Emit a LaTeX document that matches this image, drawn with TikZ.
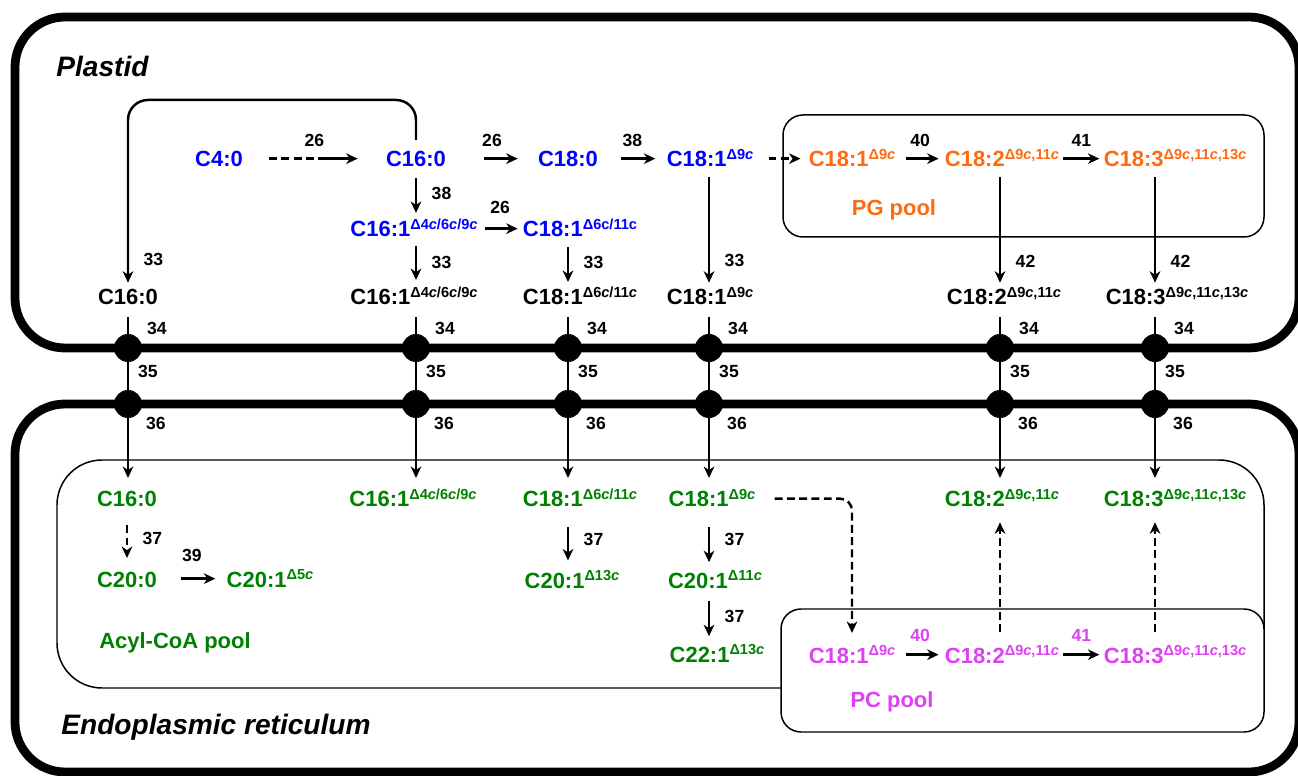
\documentclass[tikz,border=0pt]{standalone}
\usepackage{fontspec}
\setmainfont{Liberation Sans}
\usepackage{tikz}
\usetikzlibrary{arrows.meta,positioning,calc}
\definecolor{plastblue}{HTML}{0000FF}
\definecolor{pgorange}{HTML}{FF6A10}
\definecolor{coagreen}{HTML}{008000}
\definecolor{pcpink}{HTML}{E040F5}
\newcommand{\dsup}[1]{\raisebox{4pt}{\fontsize{8.3}{9}\selectfont #1}}
\newcommand{\ci}{\textit{c}}

\begin{document}
\begin{tikzpicture}[x=0.02cm, y=-0.02cm,
  acid/.style={anchor=base, inner sep=0pt, text height=9.5pt, text depth=0pt, font=\fontsize{12.5}{14}\selectfont\bfseries},
  num/.style={inner sep=0pt, font=\fontsize{10}{12}\selectfont\bfseries},
  poolname/.style={inner sep=0pt, font=\fontsize{12.5}{14}\selectfont\bfseries},
  compart/.style={anchor=west, inner sep=0pt, font=\fontsize{16}{18}\selectfont\bfseries\itshape},
  wall/.style={line width=5pt, rounded corners=1cm},
  pool/.style={line width=0.85pt, rounded corners=#1}, pool/.default=0.4cm,
  pore/.style={circle, fill=black, inner sep=0pt, minimum size=0.56cm},
  arr/.style={-{Stealth[length=6.5pt,width=6pt,inset=2pt]}, line width=1.4pt, shorten <=3pt, shorten >=3pt},
  dashy/.style={dash pattern=on 4.5pt off 2.5pt}]
\useasboundingbox (0,0) rectangle (1298,776);

% compartments and lipid pools
\draw[wall] (15,17) rectangle (1299,348);
\draw[wall] (15,404) rectangle (1299,772);
\node[compart] (plastid) at (56,66) {Plastid};
\node[compart] (er) at (61,727) {Endoplasmic reticulum};
\draw[pool] (783,115) rectangle (1264,237);
\draw[pool=0.9cm] (57,460) rectangle (1264,688);
\draw[pool, fill=white] (781,609) rectangle (1264,732);
\node[poolname, text=pgorange] (pg) at (894,210) {PG pool};
\node[poolname, text=coagreen] (coa) at (175,643) {Acyl-CoA pool};
\node[poolname, text=pcpink] (pc) at (892,702) {PC pool};

% columns and membranes
\coordinate (colA) at (128,0);
\coordinate (colB) at (416,0);
\coordinate (colC) at (568,0);
\coordinate (colD) at (709,0);
\coordinate (colE) at (1000,0);
\coordinate (colF) at (1155,0);
\coordinate (mem1) at (0,348);
\coordinate (mem2) at (0,404);

% plastid acids
\node[acid, text=plastblue] (c4) at (219,167) {C4:0};
\node[acid, text=plastblue] (bC160) at (416,167) {C16:0};
\node[acid, text=plastblue] (bC180) at (568,167) {C18:0};
\node[acid, text=plastblue] (bC181) at (710,167) {C18:1\dsup{Δ9\ci}};
\node[acid, text=plastblue] (bC161) at (414,237) {C16:1\dsup{Δ4\ci/6\ci/9\ci}};
\node[acid, text=plastblue] (bC181b) at (580,237) {C18:1\dsup{Δ6c/11c}};
\node[acid, text=pgorange] (oC181) at (852,167) {C18:1\dsup{Δ9\ci}};
\node[acid, text=pgorange] (oC182) at (1002,167) {C18:2\dsup{Δ9\ci,11\ci}};
\node[acid, text=pgorange] (oC183) at (1175,167) {C18:3\dsup{Δ9\ci,11\ci,13\ci}};

% free acids at the envelope
\node[acid] (kA) at (128,305) {C16:0};
\node[acid] (kB) at (414,305) {C16:1\dsup{Δ4\ci/6\ci/9\ci}};
\node[acid] (kC) at (580,305) {C18:1\dsup{Δ6\ci/11\ci}};
\node[acid] (kD) at (710,305) {C18:1\dsup{Δ9\ci}};
\node[acid] (kE) at (1004,305) {C18:2\dsup{Δ9\ci,11\ci}};
\node[acid] (kF) at (1177,305) {C18:3\dsup{Δ9\ci,11\ci,13\ci}};

% ER acyl-CoAs
\node[acid, text=coagreen] (gA) at (127,507) {C16:0};
\node[acid, text=coagreen] (gB) at (413,507) {C16:1\dsup{Δ4\ci/6\ci/9\ci}};
\node[acid, text=coagreen] (gC) at (580,507) {C18:1\dsup{Δ6\ci/11\ci}};
\node[acid, text=coagreen] (gD) at (712,507) {C18:1\dsup{Δ9\ci}};
\node[acid, text=coagreen] (gE) at (1002,507) {C18:2\dsup{Δ9\ci,11\ci}};
\node[acid, text=coagreen] (gF) at (1175,507) {C18:3\dsup{Δ9\ci,11\ci,13\ci}};
\node[acid, text=coagreen] (gC200) at (127,587) {C20:0};
\node[acid, text=coagreen] (gC201a) at (270,587) {C20:1\dsup{Δ5\ci}};
\node[acid, text=coagreen] (gC201b) at (572,588) {C20:1\dsup{Δ13\ci}};
\node[acid, text=coagreen] (gC201c) at (715,588) {C20:1\dsup{Δ11\ci}};
\node[acid, text=coagreen] (gC221) at (717,662) {C22:1\dsup{Δ13\ci}};
\node[acid, text=pcpink] (pC181) at (852,663) {C18:1\dsup{Δ9\ci}};
\node[acid, text=pcpink] (pC182) at (1002,663) {C18:2\dsup{Δ9\ci,11\ci}};
\node[acid, text=pcpink] (pC183) at (1175,663) {C18:3\dsup{Δ9\ci,11\ci,13\ci}};

% plastid reactions
\draw[arr, dash pattern=on 4.5pt off 2.5pt on 4.5pt off 2.5pt on 4.5pt off 2.5pt on 4.5pt off 2.5pt on 2cm off 1pt, shorten <=14.8pt, shorten >=16pt] (c4) -- node[num, above=0.22cm] {26} (bC160);
\draw[arr, shorten <=21.6pt, shorten >=11.4pt] (bC160) -- node[num, above=0.22cm] {26} (bC180);
\draw[arr, shorten <=13pt, shorten >=6.3pt] (bC180) -- node[num, above=0.22cm] {38} (bC181);
\draw[arr, dashy, shorten <=8.5pt, shorten >=4.5pt] (bC181) -- (oC181);
\draw[arr, shorten <=5.7pt, shorten >=3.4pt] (oC181) -- node[num, above=0.22cm] {40} (oC182);
\draw[arr, shorten <=2.3pt, shorten >=2.3pt] (oC182) -- node[num, above=0.22cm] {41} (oC183);
\draw[arr, shorten <=4pt, shorten >=2.8pt] (bC161) -- node[num, above=0.27cm] {26} (bC181b);
\draw[arr, shorten <=6.3pt, shorten >=4pt] (bC160.south -| colB) -- node[num, right=0.29cm] {38} (bC161.north -| colB);
\draw[arr, shorten <=5pt, shorten >=4.5pt] (bC161.south -| colB) -- node[num, right=0.29cm] {33} (kB.north -| colB);
\draw[arr, shorten <=5.7pt, shorten >=3.4pt] (bC181b.south -| colC) -- node[num, right=0.29cm] {33} (kC.north -| colC);
\draw[arr, shorten <=5.7pt, shorten >=3pt] (bC181.south -| colD) -- node[num, right=0.29cm, pos=0.77] {33} (kD.north -| colD);
\draw[arr, shorten <=5.7pt, shorten >=3pt] (oC182.south -| colE) -- node[num, right=0.29cm, pos=0.78] {42} (kE.north -| colE);
\draw[arr, shorten <=5.7pt, shorten >=3pt] (oC183.south -| colF) -- node[num, right=0.29cm, pos=0.78] {42} (kF.north -| colF);
\draw[arr, rounded corners=0.4cm, shorten <=5.7pt, shorten >=3pt] (bC160.north) -- ++(0,-50) -| node[num, right=0.29cm, pos=0.925] {33} (kA.north);

% export across the envelope
\foreach \c in {A,B,C,D,E,F} {
  \draw[arr, shorten <=6.8pt, shorten >=6.8pt] (k\c.south -| col\c) -- (g\c.north -| col\c);
  \node[pore] (out\c) at (col\c |- mem1) {};
  \node[pore] (in\c) at (col\c |- mem2) {};
  \node[num] at ([shift={(29,-20)}]out\c) {34};
  \node[num] at ([shift={(20,23)}]out\c) {35};
  \node[num] at ([shift={(28,19)}]in\c) {36};
}

% ER reactions
\draw[arr, dashy, shorten <=10.2pt, shorten >=6.8pt] (gA) -- node[num, right=0.29cm] {37} (gC200);
\draw[arr, shorten <=13.7pt, shorten >=6.3pt] (gC200) -- node[num, above=0.31cm] {39} (gC201a);
\draw[arr, shorten <=11.4pt, shorten >=6pt] (gC.south -| colC) -- node[num, right=0.29cm] {37} (gC201b.north -| colC);
\draw[arr, shorten <=11.4pt, shorten >=5pt] (gD.south -| colD) -- node[num, right=0.29cm] {37} (gC201c.north -| colD);
\draw[arr, shorten <=7pt, shorten >=5pt] (gC201c.south -| colD) -- node[num, right=0.29cm] {37} (gC221.north -| colD);
\draw[arr, dashy, rounded corners=0.24cm, shorten <=10.8pt, shorten >=7.4pt] (gD) -| (pC181);
\draw[arr, shorten <=5.7pt, shorten >=3.4pt] (pC181) -- node[num, text=pcpink, above=0.23cm] {40} (pC182);
\draw[arr, shorten <=2.3pt, shorten >=2.3pt] (pC182) -- node[num, text=pcpink, above=0.23cm] {41} (pC183);
\draw[arr, dashy, shorten <=8pt, shorten >=8.5pt] (pC182.north -| colE) -- (gE.south -| colE);
\draw[arr, dashy, shorten <=8pt, shorten >=8.5pt] (pC183.north -| colF) -- (gF.south -| colF);
\end{tikzpicture}
\end{document}
